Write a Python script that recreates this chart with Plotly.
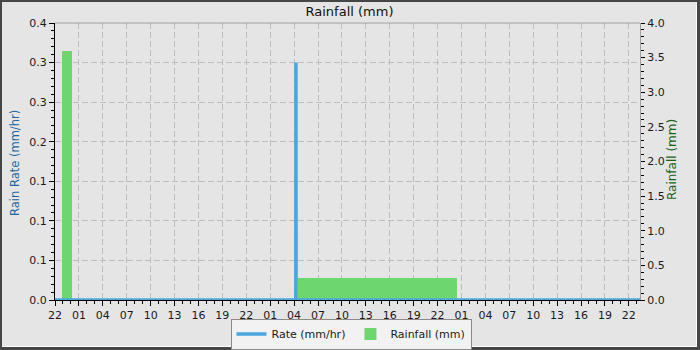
import plotly.graph_objects as go
from datetime import datetime

# ---------------- data ----------------
rate_times = ["2024-06-01 22:00", "2024-06-03 04:13", "2024-06-03 04:14",
              "2024-06-03 04:15", "2024-06-04 23:30"]
rate_values = [0.0, 0.0, 0.343, 0.0, 0.0]

rain_start = ["2024-06-01 22:55", "2024-06-03 04:30"]
rain_end = ["2024-06-02 00:05", "2024-06-04 00:28"]
rain_mm = [3.6, 0.32]

rate_tick_labels = ["0.0", "0.1", "0.1", "0.1", "0.2", "0.3", "0.3", "0.4"]
rain_tick_labels = ["0.0", "0.5", "1.0", "1.5", "2.0", "2.5", "3.0", "3.5", "4.0"]

x_start = "2024-06-01 22:00"
x_end = "2024-06-04 23:24"

# ---------------- layout constants ----------------
W, H = 700, 350
L, R, T, B = 55, 60, 23, 50
PW, PH = W - L - R, H - T - B
FONT = "DejaVu Sans"
BG = "#e5e5e5"
GRIDDASH = "6px,3px"


def px_x(px):
    return (px - L) / PW


def px_y(py):
    return 1 - (py - T) / PH


fmt = "%Y-%m-%d %H:%M"
starts = [datetime.strptime(s, fmt) for s in rain_start]
ends = [datetime.strptime(s, fmt) for s in rain_end]
centers = [s + (e - s) / 2 for s, e in zip(starts, ends)]
widths = [(e - s).total_seconds() * 1000 for s, e in zip(starts, ends)]

fig = go.Figure()
fig.add_trace(go.Bar(
    x=centers, y=rain_mm, width=widths, name="Rainfall (mm)",
    marker=dict(color="#6ed66e", line=dict(width=0)),
    yaxis="y", showlegend=True, legendrank=2,
))
fig.add_trace(go.Scatter(
    x=rate_times, y=rate_values, name="Rate (mm/hr)", mode="lines",
    line=dict(color="#4aa6dc", width=3.5), yaxis="y2", legendrank=1,
))

rmax = 0.4
rate_tickvals = [k * rmax / 7 for k in range(8)]
rain_tickvals = [k * 0.5 for k in range(9)]

tickfont = dict(family=FONT, size=11, color="#1a1a1a")

fig.update_layout(
    width=W, height=H,
    margin=dict(l=L, r=R, t=T, b=B, autoexpand=False),
    paper_bgcolor=BG, plot_bgcolor=BG,
    font=dict(family=FONT, size=11, color="#1a1a1a"),
    title=dict(text="Rainfall (mm)", x=(L + PW / 2 + 2) / W, xanchor="center",
               y=1 - 11 / H, yanchor="middle", yref="container",
               font=dict(family=FONT, size=13, color="#111111")),
    bargap=0,
    showlegend=True,
    legend=dict(orientation="h", xref="container", x=351 / W, xanchor="center",
                yref="container", y=1 - 334 / H, yanchor="middle",
                bgcolor="#f2f2f2", bordercolor="#8a8a8a", borderwidth=1,
                font=dict(family=FONT, size=11, color="#1a1a1a"),
                traceorder="normal", itemwidth=30, tracegroupgap=0),
    xaxis=dict(
        type="date", range=[x_start, x_end],
        tick0=x_start, dtick=3 * 3600000, tickformat="%H",
        ticks="outside", ticklen=5, tickcolor="#000", tickfont=tickfont,
        showline=True, linecolor="#000", linewidth=1,
        showgrid=True, gridcolor="#bdbdbd", griddash=GRIDDASH, gridwidth=1,
        minor=dict(dtick=3600000, tick0=x_start, ticks="outside", ticklen=3,
                   tickcolor="#000", showgrid=False),
        zeroline=False, fixedrange=True,
    ),
    yaxis=dict(
        side="right", range=[0, 4.0], tickmode="array",
        tickvals=rain_tickvals, ticktext=rain_tick_labels,
        ticks="outside", ticklen=4, tickcolor="#000", tickfont=tickfont,
        showline=True, linecolor="#a0a0a0", linewidth=1,
        showgrid=False, zeroline=False,
        minor=dict(dtick=0.1, tick0=0, ticks="outside", ticklen=3,
                   tickcolor="#000", showgrid=False),
    ),
    yaxis2=dict(
        side="left", overlaying="y", range=[0, rmax], tickmode="array",
        tickvals=rate_tickvals, ticktext=rate_tick_labels,
        ticks="outside", ticklen=5, tickcolor="#000", tickfont=tickfont,
        showline=True, linecolor="#000", linewidth=1,
        showgrid=True, gridcolor="#bdbdbd", griddash=GRIDDASH, gridwidth=1,
        zeroline=False,
        minor=dict(dtick=rmax / 35, tick0=0, ticks="outside", ticklen=3,
                   tickcolor="#000", showgrid=False),
    ),
)

# axis titles
fig.add_annotation(text="Rain Rate (mm/hr)", xref="paper", yref="paper",
                   x=px_x(15), y=px_y(163), xanchor="center", yanchor="middle",
                   textangle=-90, showarrow=False,
                   font=dict(family=FONT, size=11.5, color="#24649e"))
fig.add_annotation(text="Rainfall (mm)", xref="paper", yref="paper",
                   x=px_x(672), y=px_y(160), xanchor="center", yanchor="middle",
                   textangle=-90, showarrow=False,
                   font=dict(family=FONT, size=12, color="#176417"))

shapes = []
# top border of plot area
shapes.append(dict(type="line", xref="paper", yref="paper", x0=0, x1=1, y0=1, y1=1,
                   line=dict(color="#a0a0a0", width=1)))
# outer frame
dark = "#464646"
for (x0, y0, x1, y1) in [(0, 0, W, 2), (0, 0, 2, H), (W - 3, 0, W, H), (0, H - 3, W, H)]:
    shapes.append(dict(type="rect", xref="paper", yref="paper",
                       x0=px_x(x0), x1=px_x(x1), y0=px_y(y0), y1=px_y(y1),
                       fillcolor=dark, line=dict(width=0), layer="above"))
shapes.append(dict(type="line", xref="paper", yref="paper",
                   x0=px_x(696.5), x1=px_x(696.5), y0=px_y(2), y1=px_y(347),
                   line=dict(color="#ffffff", width=1), layer="above"))
shapes.append(dict(type="line", xref="paper", yref="paper",
                   x0=px_x(2), x1=px_x(697), y0=px_y(346.5), y1=px_y(346.5),
                   line=dict(color="#ffffff", width=1), layer="above"))
fig.update_layout(shapes=shapes)

fig.write_html("out.html")
